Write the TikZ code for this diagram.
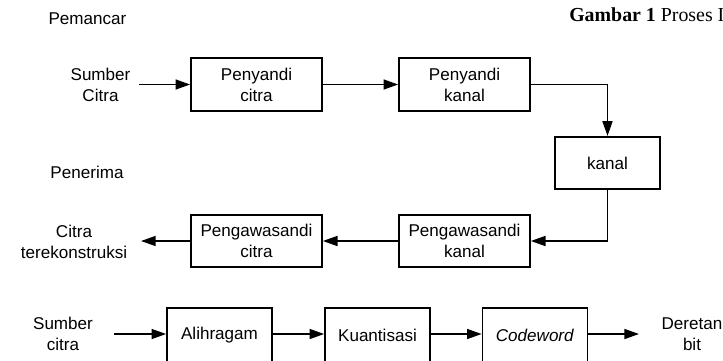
\documentclass[tikz,border=0pt]{standalone}
\usepackage{fontspec}
\setmainfont{Liberation Sans}
\newfontfamily\timesfont{Liberation Serif}
\usetikzlibrary{arrows.meta}
\begin{document}
\begin{tikzpicture}[x=0.75pt,y=-0.75pt,
  every node/.style={font=\fontsize{12.8}{15.75}\selectfont, align=center, inner sep=0pt},
  blok/.style={draw, line width=1.25pt, minimum height=39.4pt},
  wide/.style={blok, minimum width=98.25pt},
  narrow/.style={blok, minimum width=78.75pt},
  low/.style={draw, line width=1.25pt, minimum height=40.5pt, minimum width=78.75pt},
  lbl/.style={},
  arr/.style={line width=1.15pt, -{Triangle[length=11pt,width=7.5pt]}},
  ln/.style={line width=1.15pt}]
\useasboundingbox (0,0) rectangle (723,360);
% labels
\node[lbl] (pemancar) at (87.5,19) {Pemancar};
\node[lbl] (penerima) at (87,172) {Penerima};
\node[anchor=base west, font=\timesfont\fontsize{14.9}{17}\selectfont] (judul) at (569,22) {\textbf{Gambar 1} Proses I};
% top row
\node[lbl] (src) at (100.5,85) {Sumber\\Citra};
\node[wide] (pc) at (256.5,84.5) {Penyandi\\citra};
\node[wide] (pk) at (464.5,84.5) {Penyandi\\kanal};
\node[narrow] (kanal) at (607.5,163) {kanal};
\node[wide] (wk) at (464.5,241) {Pengawasandi\\kanal};
\node[wide] (wc) at (256.5,241) {Pengawasandi\\citra};
\node[lbl] (rec) at (74,242) {Citra\\terekonstruksi};
\coordinate (s1) at (139,84.5);
\coordinate (e1) at (141,241);
\draw[arr] (s1) -- (pc.west);
\draw[arr] (pc.east) -- (pk.west);
\draw[arr] (pk.east) -| (kanal.north);
\draw[arr] (kanal.south) |- (wk.east);
\draw[arr] (wk.west) -- (wc.east);
\draw[arr] (wc.west) -- (e1);
% bottom row
\node[lbl] (src2) at (63,334) {Sumber\\citra};
\node[low] (ali) at (219.5,335) {Alihragam};
\node[low] (kua) at (377.5,335) {Kuantisasi};
\node[low] (cw) at (535,335) {\textit{Codeword}};
\node[lbl] (bit) at (692,334) {Deretan\\bit};
\coordinate (s2) at (114,334);
\coordinate (e2) at (639,334);
\draw[arr] (s2) -- (ali.west |- s2);
\draw[arr] (ali.east |- s2) -- (kua.west |- s2);
\draw[arr] (kua.east |- s2) -- (cw.west |- s2);
\draw[arr] (cw.east |- s2) -- (e2);
\end{tikzpicture}
\end{document}
